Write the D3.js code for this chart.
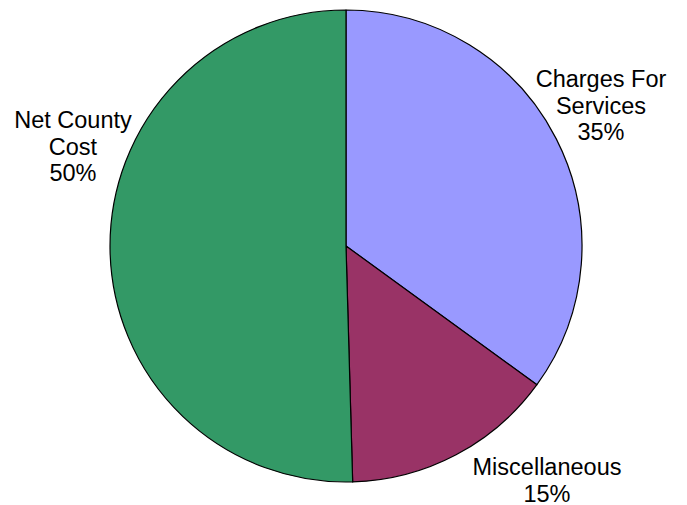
<!DOCTYPE html>
<html>
<head>
<meta charset="utf-8">
<script src="https://cdn.jsdelivr.net/npm/d3@7"></script>
<style>
  html, body { margin: 0; padding: 0; background: #fff; }
  svg { display: block; }
  text { font-family: Arial, "Liberation Sans", sans-serif; font-size: 23.5px; fill: #000; }
</style>
</head>
<body>
<svg id="chart" width="687" height="505"></svg>
<script>
// Budget share by funding source (percent)
const categories = ["Charges For Services", "Miscellaneous", "Net County Cost"];
const values = [35.0, 14.55, 50.45];
const colors = ["#9999FF", "#993366", "#339966"];
// Label lines for each slice, and the label anchor (centre x, first baseline y)
const labelLines = [["Charges For", "Services"], ["Miscellaneous"], ["Net County", "Cost"]];
const labelAnchors = [[601, 87], [547, 475], [73, 128]];

const svg = d3.select("#chart");
const cx = 346, cy = 246, radius = 236;

const pie = d3.pie().sort(null).value(d => d.value);
const arc = d3.arc().innerRadius(0).outerRadius(radius);

const data = categories.map((c, i) => ({ name: c, value: values[i], color: colors[i] }));
const total = d3.sum(values);

const g = svg.append("g").attr("transform", `translate(${cx},${cy})`);
g.selectAll("path")
  .data(pie(data))
  .join("path")
  .attr("d", arc)
  .attr("fill", d => d.data.color)
  .attr("stroke", "#000")
  .attr("stroke-width", 1.2)
  .attr("stroke-linejoin", "round");

const lineHeight = 26.5;
data.forEach((d, i) => {
  const lines = labelLines[i].concat([Math.round(d.value / total * 100) + "%"]);
  const t = svg.append("text")
    .attr("text-anchor", "middle")
    .attr("x", labelAnchors[i][0])
    .attr("y", labelAnchors[i][1]);
  lines.forEach((ln, j) => {
    t.append("tspan")
      .attr("x", labelAnchors[i][0])
      .attr("dy", j === 0 ? 0 : lineHeight)
      .text(ln);
  });
});
</script>
</body>
</html>
